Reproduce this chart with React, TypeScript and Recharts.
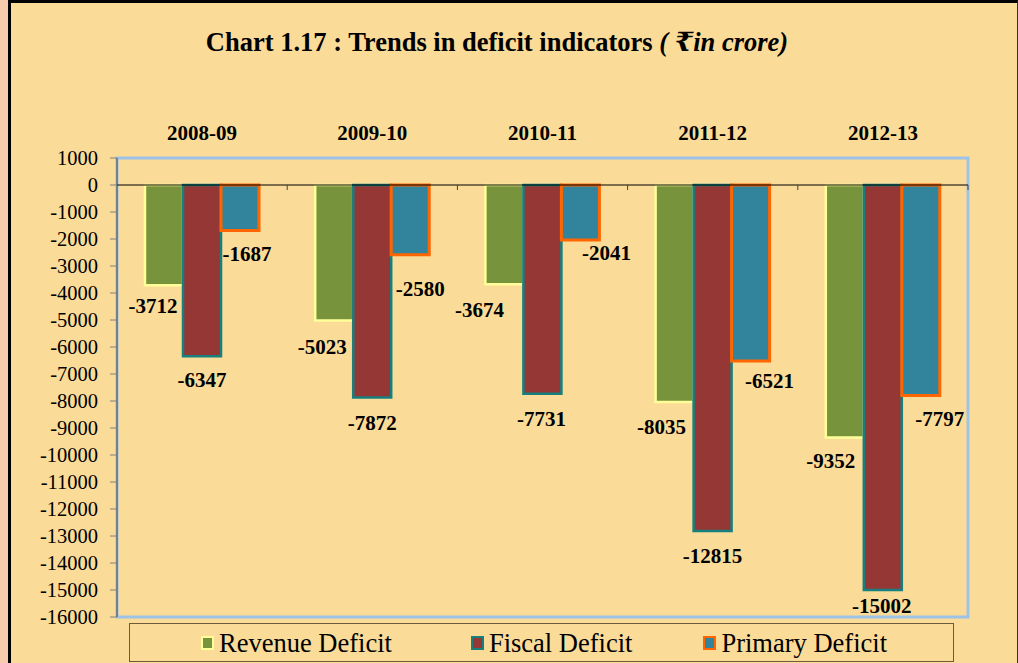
import React from 'react';
import { BarChart, Bar, XAxis, YAxis, ReferenceLine, ReferenceArea, LabelList, Legend } from 'recharts';

const years = ['2008-09', '2009-10', '2010-11', '2011-12', '2012-13'];
const revenueDeficit = [-3712, -5023, -3674, -8035, -9352];
const fiscalDeficit = [-6347, -7872, -7731, -12815, -15002];
const primaryDeficit = [-1687, -2580, -2041, -6521, -7797];
const yTicks = [1000, 0, -1000, -2000, -3000, -4000, -5000, -6000, -7000, -8000, -9000, -10000, -11000, -12000, -13000, -14000, -15000, -16000];

const data = years.map((year, i) => ({
  year,
  revenue: revenueDeficit[i],
  fiscal: fiscalDeficit[i],
  primary: primaryDeficit[i],
}));

const SERIF = '"Liberation Serif", "Times New Roman", "DejaVu Serif", serif';
const BG = '#FADB98';

const series = [
  { key: 'revenue', name: 'Revenue Deficit', fill: '#77933C', stroke: '#FFFF99', sw: 2.5 },
  { key: 'fiscal', name: 'Fiscal Deficit', fill: '#953735', stroke: '#17807F', sw: 2.5 },
  { key: 'primary', name: 'Primary Deficit', fill: '#31849B', stroke: '#FF6600', sw: 3 },
];

// manual label placement nudges (relative to bar end), like Excel's moved labels
const labelNudge: Record<string, { dx: number[]; dy: number[] }> = {
  revenue: { dx: [-11, -12, -25, -13, -14], dy: [21, 26, 26, 25, 23] },
  fiscal: { dx: [0, 0, -1, 0, -1], dy: [24, 25, 25, 25, 16] },
  primary: { dx: [7, 10, 26, 19, 19], dy: [23, 34, 13, 20, 23] },
};

const legendGaps = [71, 79, 71];

const makeLabel = (key: string) => (props: any) => {
  const { x, y, width, height, value, index } = props;
  const yy = Number(y);
  const hh = Number(height);
  const bottom = Math.max(yy, yy + hh);
  const cx = Number(x) + Number(width) / 2;
  const n = labelNudge[key];
  return (
    <text
      x={cx + n.dx[index]}
      y={bottom + n.dy[index]}
      textAnchor="middle"
      dominantBaseline="central"
      fontFamily={SERIF}
      fontWeight="bold"
      fontSize={21}
      fill="#000"
    >
      {value}
    </text>
  );
};

const ZeroLine = (props: any) => {
  const { x1, x2, y1 } = props;
  const n = years.length;
  const step = (x2 - x1) / n;
  const ticks = [];
  for (let i = 1; i <= n; i++) {
    const tx = x1 + step * i;
    ticks.push(<line key={i} x1={tx} x2={tx} y1={y1} y2={y1 + 5} stroke="#404040" strokeWidth={1} />);
  }
  return (
    <g>
      <line x1={x1} x2={x2} y1={y1} y2={y1} stroke="#000" strokeWidth={1.2} />
      {ticks}
    </g>
  );
};

const LegendBox = () => (
  <div
    style={{
      boxSizing: 'border-box',
      width: 825,
      height: 39,
      border: '1px solid #6E5B3C',
      display: 'flex',
      alignItems: 'center',
      justifyContent: 'flex-start',
      fontFamily: SERIF,
      fontSize: 26.5,
      color: '#000',
    }}
  >
    {series.map((s, i) => (
      <div key={s.key} style={{ display: 'flex', alignItems: 'center', marginLeft: legendGaps[i] }}>
        <span
          style={{
            display: 'inline-block',
            boxSizing: 'border-box',
            width: 13,
            height: 14,
            background: s.fill,
            border: `2.5px solid ${s.stroke}`,
            marginRight: 5,
          }}
        />
        <span style={{ lineHeight: '30px' }}>{s.name}</span>
      </div>
    ))}
  </div>
);

export default function App() {
  return (
    <div style={{ position: 'absolute', left: 0, top: 0, width: 1018, height: 663, background: '#F8CBAD', overflow: 'hidden' }}>
      <div
        style={{
          position: 'absolute',
          left: 8,
          top: 0,
          width: 1010,
          height: 680,
          boxSizing: 'border-box',
          borderLeft: '3px solid #000',
          borderTop: '3px solid #000',
          borderRight: '1px solid #333',
          background: BG,
        }}
      />
      <div
        style={{
          position: 'absolute',
          left: 0,
          top: 26,
          width: 994,
          textAlign: 'center',
          fontFamily: SERIF,
          fontWeight: 'bold',
          fontSize: 26.5,
          lineHeight: '32px',
          color: '#000',
        }}
      >
        Chart 1.17 : Trends in deficit indicators <i>( ₹in crore)</i>
      </div>
      <div style={{ position: 'absolute', left: 0, top: 0 }}>
        <BarChart
          width={1018}
          height={663}
          data={data}
          margin={{ top: 118, right: 50, bottom: 46, left: 57 }}
          barSize={38}
          barGap={0}
        >
          <ReferenceArea y1={-16000} y2={1000} fill="none" stroke="#9DC3E6" strokeWidth={3} />
          <XAxis
            dataKey="year"
            orientation="top"
            height={40}
            axisLine={false}
            tickLine={false}
            tickSize={0}
            tickMargin={18}
            interval={0}
            tick={{ fontFamily: SERIF, fontWeight: 'bold', fontSize: 21, fill: '#000' }}
          />
          <YAxis
            type="number"
            domain={[-16000, 1000]}
            ticks={yTicks}
            interval={0}
            width={60}
            tickSize={7}
            tickMargin={12}
            axisLine={{ stroke: '#404040' }}
            tickLine={{ stroke: '#808080' }}
            tick={{ fontFamily: SERIF, fontSize: 20.5, fill: '#000' }}
          />
          {series.map((s) => (
            <Bar
              key={s.key}
              dataKey={s.key}
              name={s.name}
              fill={s.fill}
              stroke={s.stroke}
              strokeWidth={s.sw}
              isAnimationActive={false}
            >
              <LabelList dataKey={s.key} content={makeLabel(s.key)} />
            </Bar>
          ))}
          <ReferenceLine y={0} shape={ZeroLine} />
          <Legend
            layout="horizontal"
            verticalAlign="middle"
            align="center"
            wrapperStyle={{ left: 129, top: 623, width: 825, height: 39 }}
            content={() => <LegendBox />}
          />
        </BarChart>
      </div>
    </div>
  );
}
